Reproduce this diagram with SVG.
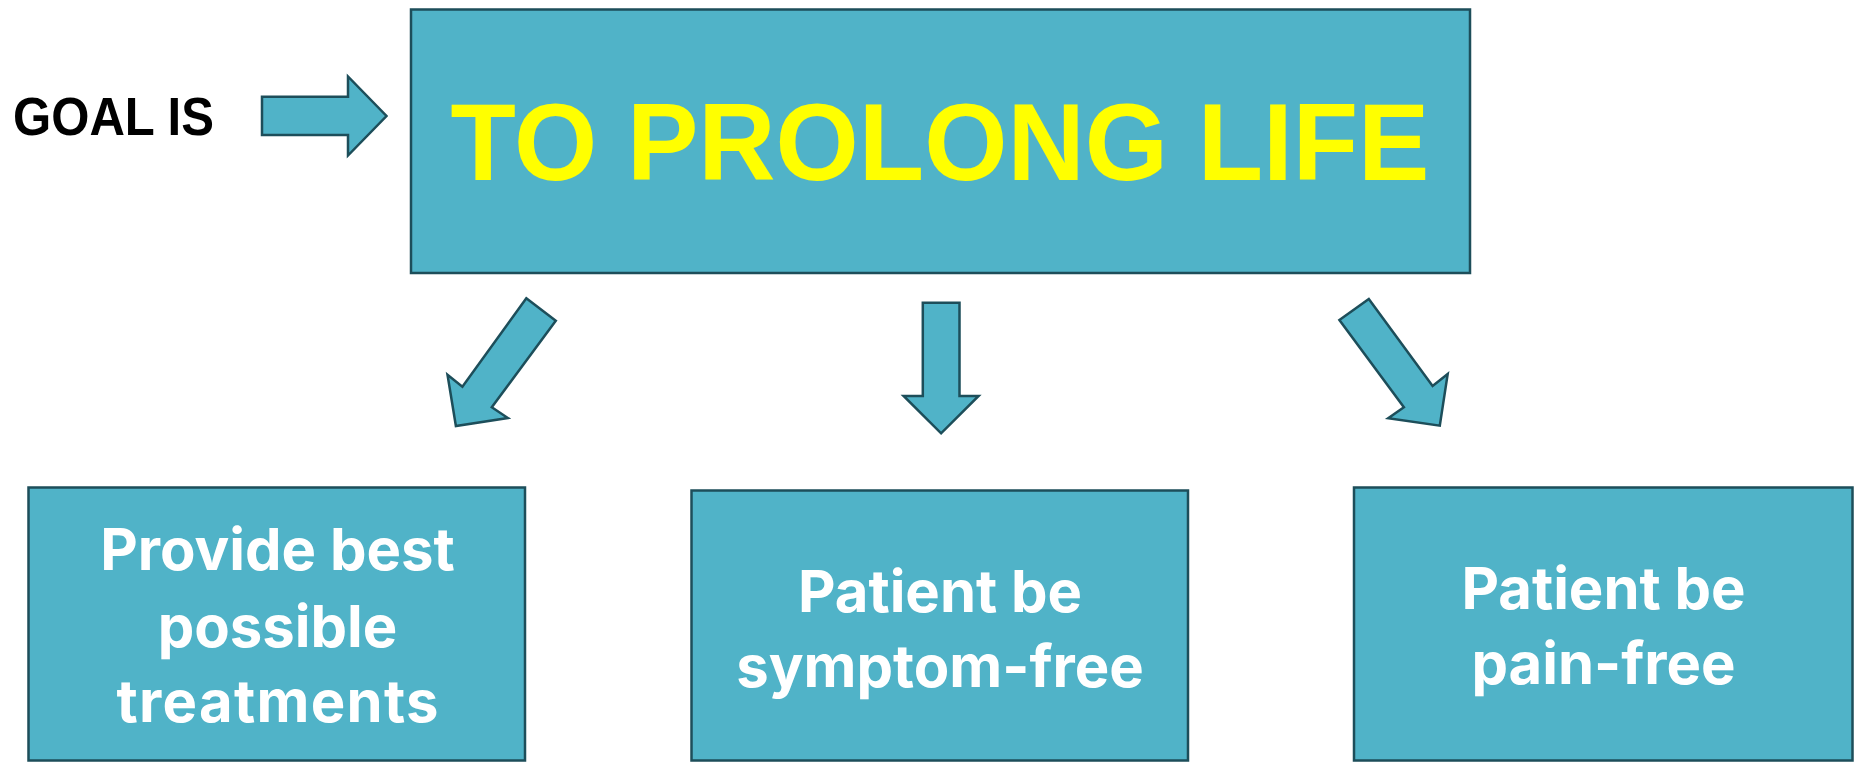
<svg xmlns="http://www.w3.org/2000/svg" width="1862" height="762" viewBox="0 0 1862 762">
<style>
.box{fill:#50B3C8;stroke:#1D4E5A;stroke-width:2.5}
.arr{fill:#50B3C8;stroke:#1D4E5A;stroke-width:2.5;stroke-linejoin:miter}
.sub{font-family:Inter,"Open Sans","Liberation Sans",sans-serif;font-weight:700;font-size:58px;fill:#FFFFFF;text-anchor:middle}
</style>
<rect width="1862" height="762" fill="#FFFFFF"/>
<g id="goal-label">
<text x="13" y="135" font-family="'Liberation Sans',Arial,sans-serif" font-weight="700" font-size="54" fill="#000000" textLength="201" lengthAdjust="spacingAndGlyphs">GOAL IS</text>
</g>
<g id="main">
<rect class="box" x="411" y="9.5" width="1059" height="263.5"/>
<text x="940" y="180" font-family="'Liberation Sans',Arial,sans-serif" font-weight="700" font-size="109" fill="#FFFF00" text-anchor="middle" textLength="979" lengthAdjust="spacingAndGlyphs">TO PROLONG LIFE</text>
</g>
<g id="connectors">
<polygon class="arr" points="262,96.7 348,96.7 348,76.5 386.5,116 348,155.5 348,135 262,135"/>
<polygon class="arr" points="526.3,298.3 555.8,320.7 491.8,407.3 507.9,418 455.9,426 447.5,374.7 462.4,386.7"/>
<polygon class="arr" points="922.8,302.7 959.5,302.7 959.5,396 978.6,396 941.1,433.3 903.6,396 922.8,396"/>
<polygon class="arr" points="1368.8,299 1339.4,320 1403.9,407.3 1388.2,418.3 1439.8,425.7 1447.7,374 1432.6,386"/>
</g>
<g id="node-treatments">
<rect class="box" x="28.5" y="487.5" width="496.5" height="273"/>
<text class="sub" x="277.5" y="570">Provide best</text>
<text class="sub" x="277.5" y="646.5">possible</text>
<text class="sub" x="277.5" y="721.5" textLength="322" lengthAdjust="spacing">treatments</text>
</g>
<g id="node-symptom">
<rect class="box" x="691.5" y="490.5" width="496.5" height="270"/>
<text class="sub" x="940" y="611.5">Patient be</text>
<text class="sub" x="940" y="686.5">symptom-free</text>
</g>
<g id="node-pain">
<rect class="box" x="1354" y="487.5" width="498.5" height="273"/>
<text class="sub" x="1603.5" y="608.5">Patient be</text>
<text class="sub" x="1603.5" y="684">pain-free</text>
</g>
</svg>
